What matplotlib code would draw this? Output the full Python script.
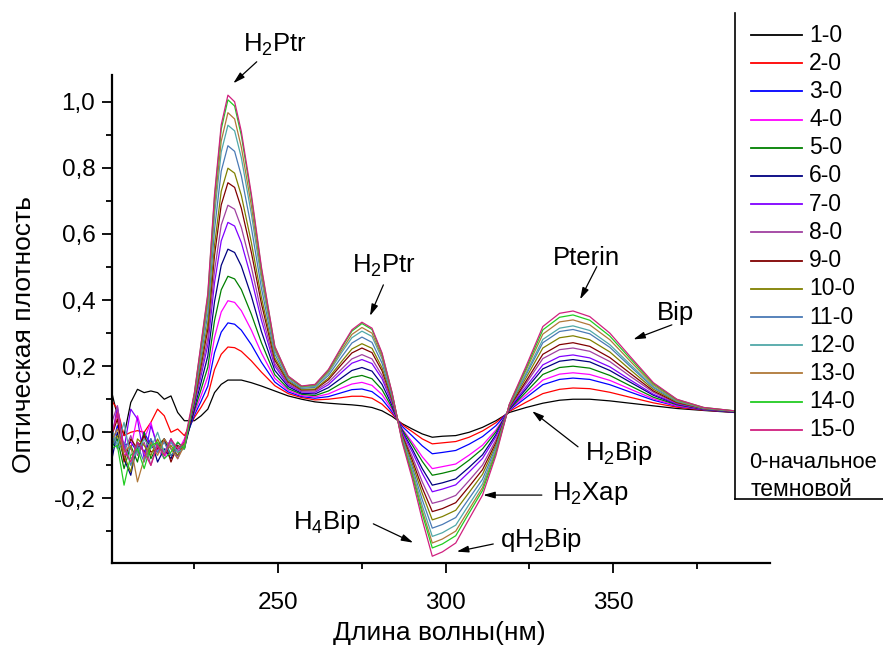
import matplotlib
matplotlib.use("Agg")
import matplotlib.pyplot as plt
from matplotlib.lines import Line2D
from matplotlib.patches import Rectangle
from matplotlib.ticker import MultipleLocator, FuncFormatter

plt.rcParams['font.family'] = ['Liberation Sans', 'DejaVu Sans']
plt.rcParams['mathtext.fontset'] = 'custom'
plt.rcParams['mathtext.rm'] = 'Liberation Sans'
plt.rcParams['mathtext.default'] = 'regular'

# --- data: difference spectra (wavelength, nm) ---
wl = [200, 202, 204, 206, 208, 210, 212, 214, 216, 218, 220, 222,
      225, 227, 229, 231, 233, 235, 237, 239, 242, 245, 249, 253, 257,
      261, 265, 269, 272, 275, 278, 281, 284,
      287, 290, 293, 296, 299, 303, 307, 311, 315,
      319, 324, 329, 334, 338, 343, 349, 355, 362, 369, 377, 386]

s1 = [0.135, 0.05, -0.01, 0.09, 0.13, 0.12, 0.125, 0.12, 0.10, 0.11, 0.06, 0.035,
      0.035, 0.05, 0.07, 0.12, 0.145, 0.158, 0.158, 0.158, 0.15, 0.14, 0.125, 0.11, 0.10,
      0.092, 0.088, 0.085, 0.083, 0.08, 0.075, 0.065, 0.048,
      0.026, 0.01, -0.005, -0.015, -0.012, -0.01, 0.0, 0.015, 0.035,
      0.06, 0.075, 0.088, 0.097, 0.10, 0.10, 0.095, 0.088, 0.08, 0.072, 0.066, 0.06]
s2 = [0.10, 0.07, -0.01, 0.0, 0.005, 0.0, 0.03, 0.07, 0.05, 0.0, 0.01, -0.01,
      0.045, 0.076, 0.111, 0.19, 0.236, 0.258, 0.256, 0.245, 0.216, 0.182, 0.141, 0.117, 0.105,
      0.098, 0.10, 0.105, 0.109, 0.109, 0.103, 0.085, 0.056,
      0.023, 0.002, -0.02, -0.035, -0.032, -0.028, -0.015, 0.004, 0.029,
      0.063, 0.091, 0.117, 0.13, 0.134, 0.132, 0.121, 0.106, 0.089, 0.076, 0.067, 0.061]
s3 = [-0.06, 0.02, -0.04, -0.03, -0.06, 0.0, -0.04, -0.06, -0.02, -0.05, -0.07, -0.03,
      0.052, 0.094, 0.14, 0.241, 0.303, 0.331, 0.327, 0.309, 0.265, 0.212, 0.152, 0.122, 0.108,
      0.103, 0.108, 0.12, 0.129, 0.131, 0.123, 0.10, 0.062,
      0.018, -0.011, -0.041, -0.065, -0.061, -0.055, -0.036, -0.013, 0.02,
      0.066, 0.105, 0.144, 0.16, 0.164, 0.16, 0.144, 0.122, 0.097, 0.079, 0.068, 0.061]
s4 = [-0.03, 0.06, -0.07, -0.05, 0.05, -0.02, 0.03, -0.05, -0.08, -0.03, -0.06, -0.02,
      0.059, 0.111, 0.168, 0.287, 0.364, 0.398, 0.393, 0.368, 0.309, 0.24, 0.163, 0.127, 0.111,
      0.107, 0.116, 0.134, 0.146, 0.151, 0.142, 0.114, 0.068,
      0.011, -0.03, -0.074, -0.11, -0.104, -0.096, -0.069, -0.039, 0.007,
      0.068, 0.113, 0.158, 0.176, 0.18, 0.175, 0.157, 0.131, 0.101, 0.08, 0.069, 0.062]
s5 = [-0.05, -0.02, -0.11, -0.04, -0.09, 0.0, -0.08, -0.04, -0.02, -0.07, -0.05, -0.04,
      0.066, 0.13, 0.197, 0.338, 0.431, 0.472, 0.464, 0.432, 0.357, 0.271, 0.174, 0.132, 0.115,
      0.111, 0.125, 0.149, 0.166, 0.172, 0.162, 0.129, 0.074,
      0.008, -0.038, -0.088, -0.13, -0.124, -0.114, -0.084, -0.05, 0.001,
      0.069, 0.122, 0.175, 0.196, 0.2, 0.194, 0.172, 0.141, 0.106, 0.083, 0.069, 0.062]
s6 = [-0.10, 0.0, -0.08, -0.13, -0.03, -0.06, -0.02, -0.09, -0.05, -0.08, -0.03, -0.05,
      0.074, 0.151, 0.231, 0.395, 0.505, 0.554, 0.544, 0.503, 0.412, 0.305, 0.187, 0.138, 0.118,
      0.116, 0.135, 0.165, 0.187, 0.196, 0.185, 0.145, 0.081,
      0.003, -0.05, -0.11, -0.16, -0.153, -0.141, -0.106, -0.068, -0.007,
      0.071, 0.131, 0.192, 0.215, 0.22, 0.213, 0.187, 0.152, 0.112, 0.085, 0.07, 0.062]
s7 = [-0.04, 0.08, -0.05, 0.07, 0.04, -0.08, 0.02, -0.04, -0.06, -0.02, -0.08, -0.03,
      0.082, 0.172, 0.264, 0.452, 0.579, 0.635, 0.624, 0.574, 0.465, 0.339, 0.20, 0.143, 0.122,
      0.121, 0.144, 0.182, 0.209, 0.22, 0.208, 0.162, 0.088,
      0.0, -0.059, -0.124, -0.18, -0.172, -0.159, -0.12, -0.079, -0.013,
      0.073, 0.138, 0.204, 0.229, 0.234, 0.225, 0.198, 0.159, 0.115, 0.086, 0.07, 0.063]
s8 = [0.02, 0.08, -0.06, -0.01, -0.07, -0.03, -0.10, -0.03, -0.07, -0.02, -0.06, -0.04,
      0.087, 0.185, 0.285, 0.488, 0.627, 0.687, 0.675, 0.62, 0.50, 0.361, 0.208, 0.147, 0.125,
      0.125, 0.151, 0.192, 0.222, 0.235, 0.222, 0.172, 0.092,
      -0.005, -0.073, -0.15, -0.215, -0.207, -0.191, -0.146, -0.099, -0.023,
      0.075, 0.148, 0.223, 0.25, 0.255, 0.245, 0.214, 0.17, 0.121, 0.088, 0.071, 0.063]
s9 = [-0.02, 0.04, -0.09, -0.02, -0.05, -0.01, -0.06, -0.05, -0.02, -0.09, -0.04, -0.05,
      0.094, 0.202, 0.312, 0.535, 0.688, 0.755, 0.741, 0.678, 0.544, 0.389, 0.218, 0.152, 0.128,
      0.129, 0.159, 0.206, 0.24, 0.255, 0.241, 0.186, 0.098,
      -0.009, -0.084, -0.168, -0.24, -0.231, -0.213, -0.164, -0.113, -0.031,
      0.076, 0.155, 0.236, 0.265, 0.271, 0.26, 0.226, 0.179, 0.125, 0.09, 0.072, 0.063]
s10 = [-0.04, -0.01, -0.07, -0.12, -0.02, -0.04, -0.07, -0.02, -0.06, -0.04, -0.07, -0.03,
       0.098, 0.214, 0.33, 0.566, 0.729, 0.799, 0.784, 0.717, 0.574, 0.408, 0.225, 0.155, 0.13,
       0.131, 0.164, 0.215, 0.252, 0.268, 0.254, 0.195, 0.102,
       -0.013, -0.094, -0.185, -0.265, -0.255, -0.236, -0.182, -0.127, -0.038,
       0.078, 0.165, 0.255, 0.286, 0.292, 0.28, 0.243, 0.19, 0.13, 0.092, 0.072, 0.064]
s11 = [0.0, -0.05, -0.03, -0.10, -0.04, -0.09, -0.02, -0.06, -0.03, -0.07, -0.05, -0.04,
       0.105, 0.231, 0.358, 0.613, 0.79, 0.867, 0.85, 0.776, 0.619, 0.436, 0.236, 0.159, 0.133,
       0.136, 0.172, 0.229, 0.27, 0.288, 0.272, 0.209, 0.107,
       -0.017, -0.105, -0.204, -0.29, -0.279, -0.258, -0.20, -0.142, -0.045,
       0.08, 0.174, 0.271, 0.305, 0.311, 0.298, 0.257, 0.20, 0.135, 0.094, 0.073, 0.064]
s12 = [0.02, -0.04, 0.03, -0.08, -0.06, -0.02, -0.05, 0.0, -0.06, -0.03, -0.06, -0.05,
       0.111, 0.247, 0.383, 0.657, 0.848, 0.929, 0.912, 0.831, 0.66, 0.462, 0.246, 0.164, 0.136,
       0.139, 0.179, 0.242, 0.286, 0.306, 0.29, 0.222, 0.112,
       -0.021, -0.115, -0.222, -0.315, -0.304, -0.281, -0.218, -0.156, -0.052,
       0.081, 0.179, 0.281, 0.315, 0.322, 0.308, 0.265, 0.206, 0.138, 0.095, 0.073, 0.064]
s13 = [-0.03, 0.01, -0.06, -0.04, -0.15, -0.08, -0.03, -0.07, -0.02, -0.05, -0.08, -0.04,
       0.115, 0.256, 0.398, 0.683, 0.881, 0.967, 0.948, 0.863, 0.685, 0.478, 0.252, 0.166, 0.138,
       0.142, 0.184, 0.249, 0.296, 0.317, 0.30, 0.229, 0.116,
       -0.024, -0.123, -0.236, -0.335, -0.323, -0.299, -0.233, -0.167, -0.058,
       0.083, 0.188, 0.297, 0.334, 0.34, 0.325, 0.28, 0.216, 0.143, 0.097, 0.074, 0.065]
s14 = [-0.05, -0.04, -0.16, -0.07, -0.05, -0.11, -0.04, -0.03, -0.08, -0.06, -0.03, -0.05,
       0.119, 0.266, 0.414, 0.71, 0.917, 1.006, 0.987, 0.898, 0.711, 0.494, 0.258, 0.169, 0.139,
       0.144, 0.188, 0.257, 0.306, 0.329, 0.311, 0.237, 0.119,
       -0.026, -0.13, -0.247, -0.35, -0.338, -0.313, -0.244, -0.176, -0.063,
       0.084, 0.194, 0.31, 0.348, 0.355, 0.339, 0.291, 0.224, 0.147, 0.099, 0.075, 0.065]
s15 = [-0.02, 0.06, -0.05, -0.09, -0.03, -0.06, -0.10, -0.04, -0.07, -0.02, -0.05, -0.03,
       0.12, 0.27, 0.42, 0.72, 0.93, 1.02, 1.0, 0.91, 0.72, 0.50, 0.26, 0.17, 0.14,
       0.145, 0.19, 0.26, 0.31, 0.333, 0.315, 0.24, 0.12,
       -0.03, -0.14, -0.265, -0.375, -0.362, -0.335, -0.262, -0.19, -0.07,
       0.085, 0.20, 0.32, 0.36, 0.367, 0.35, 0.30, 0.23, 0.15, 0.10, 0.075, 0.065]

series = [s1, s2, s3, s4, s5, s6, s7, s8, s9, s10, s11, s12, s13, s14, s15]
labels = [f"{i}-0" for i in range(1, 16)]
colors = ['#000000', '#FF0000', '#0000FF', '#FF00FF', '#008000', '#000080', '#8000FF',
          '#A040A0', '#800000', '#808000', '#4A7AB5', '#50A8A8', '#B07838', '#22CC22', '#D0207F']

W, H = 883, 648
fig = plt.figure(figsize=(W / 100, H / 100), dpi=100)
ax = fig.add_axes([112 / W, 85 / H, (770 - 112) / W, (563 - 75) / H])

for vals, col in zip(series, colors):
    ax.plot(wl, vals, color=col, lw=0.9)

ax.set_xlim(200.4, 396.8)
ax.set_ylim(-0.3955, 1.081)
ax.spines['top'].set_visible(False)
ax.spines['right'].set_visible(False)
ax.spines['left'].set_linewidth(1.6)
ax.spines['bottom'].set_linewidth(1.6)
ax.xaxis.set_major_locator(MultipleLocator(50))
ax.xaxis.set_minor_locator(MultipleLocator(25))
ax.yaxis.set_major_locator(MultipleLocator(0.2))
ax.yaxis.set_minor_locator(MultipleLocator(0.1))
ax.yaxis.set_major_formatter(FuncFormatter(lambda v, _: f"{round(v, 1):.1f}".replace('.', ',').replace('-0,0', '0,0')))
ax.tick_params(which='major', direction='out', length=7, width=1.3, labelsize=17.5)
ax.tick_params(which='minor', direction='out', length=4.5, width=1.3)
ax.tick_params(axis='x', which='major', pad=14)
ax.tick_params(axis='y', which='major', pad=5)

fig.text(439 / W, 1 - 633 / H, "Длина волны(нм)", ha='center', va='center', fontsize=19)
fig.text(24 / W, 1 - 335 / H, "Оптическая плотность", ha='center', va='center',
         rotation=90, fontsize=19)

# annotations
arrow = dict(arrowstyle='-|>,head_length=0.7,head_width=0.2', color='k', lw=0.9,
             shrinkA=0, shrinkB=0)
notes = [
    ("H$_2$Ptr", (239.5, 1.150), (243.6, 1.121), (236.6, 1.056)),
    ("H$_2$Ptr", (272.0, 0.482), (281.4, 0.446), (277.4, 0.352)),
    ("Pterin", (332.1, 0.506), (345.1, 0.501), (340.1, 0.402)),
    ("Bip", (363.0, 0.340), (367.5, 0.325), (356.0, 0.281)),
    ("H$_2$Bip", (341.6, -0.084), (339.5, -0.044), (325.8, 0.064)),
    ("H$_2$Xap", (331.7, -0.205), (328.7, -0.190), (311.2, -0.190)),
    ("H$_4$Bip", (254.3, -0.293), (278.4, -0.277), (290.3, -0.334)),
    ("qH$_2$Bip", (316.2, -0.346), (314.2, -0.338), (303.3, -0.361)),
]
for txt, tpos, tail, tip in notes:
    ax.text(tpos[0], tpos[1], txt, fontsize=18.5, ha='left', va='baseline', clip_on=False)
    ax.annotate('', xy=tip, xytext=tail, arrowprops=arrow, annotation_clip=False)

# legend box (partly outside the figure, as in the original)
def fx(x):
    return x / W

def fy(y):
    return 1 - y / H

fig.add_artist(Rectangle((fx(735), fy(499)), 0.3, fy(13) - fy(499), transform=fig.transFigure,
                         facecolor='white', edgecolor='none', zorder=5))
fig.add_artist(Line2D([fx(735), fx(735)], [fy(13), fy(499)], color='k', lw=1.2,
                      transform=fig.transFigure, zorder=6))
fig.add_artist(Line2D([fx(735), 1.0], [fy(499), fy(499)], color='k', lw=1.2,
                      transform=fig.transFigure, zorder=6))
for i, (lab, col) in enumerate(zip(labels, colors)):
    yy = fy(35 + 28.2 * i)
    fig.add_artist(Line2D([fx(751), fx(802)], [yy, yy], color=col, lw=1.3,
                          transform=fig.transFigure, zorder=6))
    fig.text(fx(809), yy, lab, va='center', ha='left', fontsize=16.5, zorder=7)
fig.text(fx(749), fy(462), "0-начальное", va='center', ha='left', fontsize=15.8, zorder=7)
fig.text(fx(751), fy(489), "темновой", va='center', ha='left', fontsize=16.5, zorder=7)

fig.savefig("out.png", dpi=100)
